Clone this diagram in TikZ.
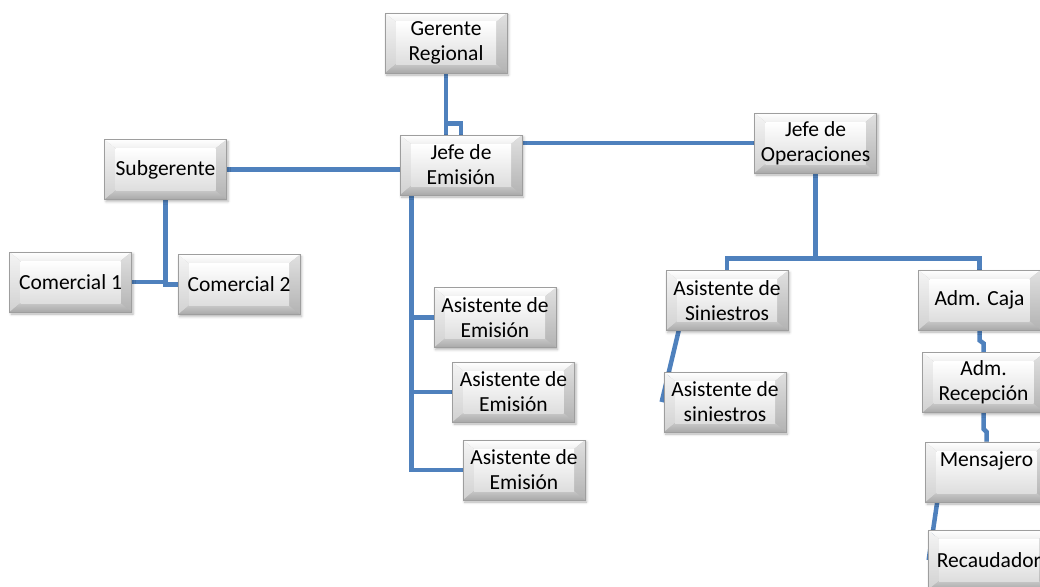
\documentclass[tikz,border=0pt]{standalone}
\usepackage{fontspec}
\setmainfont{Carlito}
\usetikzlibrary{calc,backgrounds,shadows.blur}

\definecolor{linkblue}{RGB}{79,129,189}

\tikzset{
  x=1pt, y=-1pt,
  orgbox/.style={
    rectangle, minimum width=122pt, minimum height=60pt, inner sep=0pt,
    align=center, font=\fontsize{21.5}{25}\selectfont,
    draw=black!38, line width=0.7pt,
    blur shadow={shadow xshift=1.5pt, shadow yshift=-2pt,
                 shadow blur radius=2.5pt, shadow opacity=30},
    path picture={
      \path (path picture bounding box.north west) coordinate (bvNW)
            (path picture bounding box.north east) coordinate (bvNE)
            (path picture bounding box.south east) coordinate (bvSE)
            (path picture bounding box.south west) coordinate (bvSW);
      \coordinate (bvINW) at ($(bvNW)+(11,9)$);
      \coordinate (bvINE) at ($(bvNE)+(-11,9)$);
      \coordinate (bvISE) at ($(bvSE)+(-11,-9)$);
      \coordinate (bvISW) at ($(bvSW)+(11,-9)$);
      % bevel faces
      \shade[top color=white, bottom color=black!6]
        (bvNW) -- (bvNE) -- (bvINE) -- (bvINW) -- cycle;
      \shade[top color=black!4, bottom color=black!18]
        (bvNW) -- (bvINW) -- (bvISW) -- (bvSW) -- cycle;
      \shade[top color=black!12, bottom color=black!30]
        (bvNE) -- (bvSE) -- (bvISE) -- (bvINE) -- cycle;
      \shade[top color=black!22, bottom color=black!34]
        (bvSW) -- (bvISW) -- (bvISE) -- (bvSE) -- cycle;
      % flat face
      \shade[top color=white, bottom color=black!13] (bvINW) rectangle (bvISE);
    }
  },
  conn/.style={draw=linkblue, line width=4.5pt, line join=miter}
}

\begin{document}
\begin{tikzpicture}
\useasboundingbox (0,0) rectangle (1040,586);

% boxes
\node[orgbox] (ger)  at (446,43)     {Gerente\\Regional};
\node[orgbox] (je)   at (461,165)    {Jefe de\\Emisión};
\node[orgbox] (sub)  at (165.5,169.5){Subgerente};
\node[orgbox] (c1)   at (70.5,282)   {Comercial 1};
\node[orgbox] (c2)   at (239,284.5)  {Comercial 2};
\node[orgbox] (ae1)  at (495,317.5)  {Asistente de\\Emisión};
\node[orgbox] (ae2)  at (513.5,392)  {Asistente de\\Emisión};
\node[orgbox] (ae3)  at (524,470)    {Asistente de\\Emisión};
\node[orgbox] (jo)   at (815.5,143)  {Jefe de\\Operaciones};
\node[orgbox] (as1)  at (727,300.5)  {Asistente de\\Siniestros};
\node[orgbox] (as2)  at (725,402)    {Asistente de\\siniestros};
\node[orgbox] (caja) at (979.5,300)  {Adm. Caja};
\node[orgbox] (rec)  at (983.5,382.5){Adm.\\Recepción};
\node[orgbox] (men)  at (986.5,472)  {Mensajero\\\mbox{}};
\node[orgbox] (rcd)  at (989,560)    {Recaudador};

% connectors
\begin{scope}[on background layer]
  \draw[conn] (ger.south) -- (ger.south |- je.north);
  \draw[conn] ($(ger.south)+(0,50)$) -| (je.north);

  \draw[conn] (sub.east) -- (sub.east -| je.west);
  \draw[conn] (jo.west -| je.east) -- (jo.west);

  \draw[conn] (sub.south) |- (c2.west);
  \draw[conn] (c1.east) -- (c1.east -| sub.south);

  \coordinate (jt) at ($(je.south west)+(12,0)$);
  \draw[conn] (jt) |- (ae3.west);
  \draw[conn] (jt |- ae1.west) -- (ae1.west);
  \draw[conn] (jt |- ae2.west) -- (ae2.west);

  \draw[conn] (jo.south) -- ++(0,85) coordinate (jm);
  \draw[conn] (as1.north) |- (jm) -| (caja.north);

  \draw[conn] ($(as1.south west)+(13,0)$) -- ($(as2.west)+(-2,0)$);

  \draw[conn] (caja.south) -- ++(0,10) -- ++(4,3) -- (rec.north);
  \draw[conn] (rec.south) -- ++(0,16) -- ++(3,3) -- (men.north);
  \draw[conn] ($(men.south west)+(12,0)$) -- ($(rcd.west)+(1,0)$);
\end{scope}
\end{tikzpicture}
\end{document}
